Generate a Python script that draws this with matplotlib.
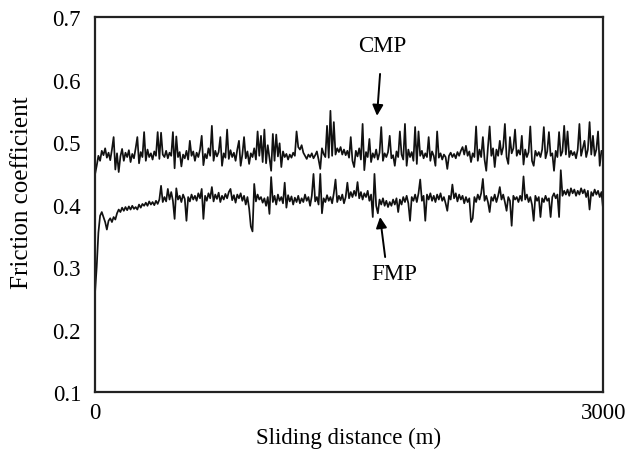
import numpy as np
import matplotlib
matplotlib.use('Agg')
import matplotlib.pyplot as plt

distance = np.arange(0, 3001, 10)

# friction coefficient, CMP (upper trace)
cmp_mu = [
    0.448, 0.462, 0.478, 0.470, 0.486, 0.479, 0.490, 0.475, 0.483, 0.471,
    0.488, 0.508, 0.456, 0.482, 0.452, 0.477, 0.489, 0.470, 0.483, 0.476,
    0.487, 0.468, 0.481, 0.474, 0.490, 0.508, 0.466, 0.484, 0.476, 0.516,
    0.470, 0.488, 0.476, 0.482, 0.472, 0.485, 0.478, 0.516, 0.473, 0.515,
    0.480, 0.476, 0.486, 0.474, 0.483, 0.478, 0.516, 0.458, 0.509, 0.476,
    0.484, 0.461, 0.480, 0.474, 0.486, 0.472, 0.502, 0.478, 0.485, 0.470,
    0.483, 0.476, 0.488, 0.510, 0.463, 0.481, 0.474, 0.490, 0.478, 0.526,
    0.470, 0.486, 0.477, 0.484, 0.508, 0.462, 0.482, 0.475, 0.520, 0.473,
    0.487, 0.476, 0.483, 0.470, 0.488, 0.502, 0.462, 0.480, 0.508, 0.474,
    0.485, 0.465, 0.482, 0.476, 0.490, 0.472, 0.517, 0.478, 0.510, 0.468,
    0.520, 0.466, 0.495, 0.474, 0.454, 0.513, 0.470, 0.512, 0.477, 0.498,
    0.460, 0.485, 0.476, 0.481, 0.472, 0.480, 0.475, 0.483, 0.478, 0.517,
    0.492, 0.488, 0.495, 0.483, 0.478, 0.473, 0.480, 0.476, 0.482, 0.474,
    0.479, 0.485, 0.472, 0.457, 0.490, 0.481, 0.476, 0.526, 0.475, 0.550,
    0.478, 0.532, 0.480, 0.490, 0.484, 0.492, 0.480, 0.488, 0.479, 0.486,
    0.475, 0.508, 0.470, 0.460, 0.486, 0.477, 0.490, 0.472, 0.529, 0.455,
    0.484, 0.476, 0.505, 0.468, 0.482, 0.475, 0.488, 0.472, 0.483, 0.524,
    0.470, 0.482, 0.476, 0.484, 0.510, 0.474, 0.479, 0.462, 0.485, 0.476,
    0.517, 0.480, 0.472, 0.529, 0.462, 0.488, 0.476, 0.484, 0.470, 0.524,
    0.465, 0.517, 0.478, 0.486, 0.474, 0.482, 0.476, 0.508, 0.470, 0.485,
    0.478, 0.462, 0.517, 0.475, 0.482, 0.472, 0.480, 0.476, 0.457, 0.478,
    0.483, 0.476, 0.481, 0.474, 0.484, 0.478, 0.486, 0.492, 0.480, 0.494,
    0.478, 0.485, 0.468, 0.482, 0.476, 0.525, 0.470, 0.488, 0.476, 0.508,
    0.472, 0.454, 0.492, 0.525, 0.478, 0.490, 0.460, 0.488, 0.478, 0.502,
    0.480, 0.492, 0.529, 0.476, 0.465, 0.508, 0.482, 0.490, 0.520, 0.478,
    0.487, 0.480, 0.510, 0.464, 0.488, 0.476, 0.484, 0.525, 0.470, 0.462,
    0.486, 0.478, 0.484, 0.476, 0.488, 0.524, 0.474, 0.485, 0.516, 0.478,
    0.482, 0.454, 0.486, 0.476, 0.516, 0.478, 0.485, 0.526, 0.480, 0.517,
    0.476, 0.486, 0.479, 0.484, 0.474, 0.488, 0.529, 0.478, 0.490, 0.502,
    0.476, 0.488, 0.532, 0.480, 0.510, 0.478, 0.488, 0.517, 0.462, 0.486,
    0.484,
]

# friction coefficient, FMP (lower trace)
fmp_mu = [
    0.258, 0.300, 0.355, 0.382, 0.388, 0.380, 0.372, 0.360, 0.374, 0.378,
    0.372, 0.380, 0.376, 0.386, 0.392, 0.388, 0.395, 0.390, 0.396, 0.391,
    0.397, 0.392, 0.398, 0.393, 0.396, 0.392, 0.400, 0.395, 0.401, 0.398,
    0.403, 0.398, 0.405, 0.400, 0.404, 0.399, 0.406, 0.401, 0.408, 0.430,
    0.404, 0.412, 0.405, 0.425, 0.408, 0.420, 0.406, 0.377, 0.426, 0.408,
    0.414, 0.404, 0.416, 0.409, 0.374, 0.412, 0.405, 0.416, 0.408, 0.414,
    0.406, 0.418, 0.410, 0.425, 0.377, 0.414, 0.406, 0.418, 0.410, 0.428,
    0.405, 0.416, 0.409, 0.419, 0.404, 0.414, 0.408, 0.417, 0.410, 0.420,
    0.425, 0.407, 0.415, 0.403, 0.416, 0.410, 0.418, 0.406, 0.414, 0.400,
    0.412, 0.394, 0.365, 0.357, 0.433, 0.405, 0.416, 0.408, 0.412, 0.403,
    0.410, 0.398, 0.412, 0.385, 0.444, 0.404, 0.414, 0.400, 0.416, 0.406,
    0.412, 0.402, 0.435, 0.395, 0.415, 0.405, 0.413, 0.400, 0.411, 0.404,
    0.414, 0.402, 0.410, 0.404, 0.416, 0.406, 0.412, 0.398, 0.414, 0.449,
    0.405, 0.412, 0.400, 0.449, 0.386, 0.410, 0.404, 0.415, 0.406, 0.412,
    0.402, 0.418, 0.440, 0.404, 0.414, 0.407, 0.416, 0.402, 0.412, 0.435,
    0.410, 0.420, 0.412, 0.422, 0.414, 0.436, 0.410, 0.420, 0.408, 0.418,
    0.412, 0.422, 0.406, 0.416, 0.380, 0.449, 0.398, 0.386, 0.408, 0.400,
    0.410, 0.398, 0.406, 0.396, 0.404, 0.398, 0.408, 0.400, 0.410, 0.388,
    0.408, 0.400, 0.412, 0.404, 0.414, 0.402, 0.374, 0.412, 0.406, 0.416,
    0.404, 0.418, 0.440, 0.406, 0.414, 0.374, 0.416, 0.408, 0.418, 0.406,
    0.414, 0.404, 0.416, 0.408, 0.418, 0.406, 0.412, 0.402, 0.390, 0.414,
    0.408, 0.432, 0.410, 0.418, 0.405, 0.416, 0.408, 0.414, 0.402, 0.412,
    0.404, 0.410, 0.372, 0.378, 0.412, 0.404, 0.416, 0.408, 0.418, 0.441,
    0.406, 0.414, 0.404, 0.388, 0.412, 0.406, 0.416, 0.404, 0.414, 0.428,
    0.408, 0.416, 0.404, 0.390, 0.412, 0.406, 0.366, 0.414, 0.408, 0.412,
    0.404, 0.414, 0.406, 0.445, 0.408, 0.416, 0.404, 0.412, 0.400, 0.374,
    0.414, 0.406, 0.412, 0.380, 0.410, 0.404, 0.414, 0.406, 0.410, 0.380,
    0.412, 0.418, 0.410, 0.416, 0.380, 0.455, 0.414, 0.422, 0.416, 0.424,
    0.414, 0.426, 0.418, 0.424, 0.414, 0.422, 0.416, 0.426, 0.418, 0.424,
    0.412, 0.422, 0.392, 0.420, 0.414, 0.424, 0.416, 0.422, 0.412, 0.420,
    0.392,
]

y_ticks = [0.1, 0.2, 0.3, 0.4, 0.5, 0.6, 0.7]
x_ticks = [0, 3000]

plt.rcParams['font.family'] = ['Liberation Serif', 'DejaVu Serif']
fs = 16.5

fig = plt.figure(figsize=(6.25, 4.52), dpi=100)
ax = fig.add_axes([0.152, 0.1305, 0.813, 0.8295])

ax.plot(distance, cmp_mu, color='#111111', lw=1.25)
ax.plot(distance, fmp_mu, color='#111111', lw=1.25)

ax.set_xlim(0, 3000)
ax.set_ylim(0.1, 0.7)
ax.set_xticks(x_ticks)
ax.set_yticks(y_ticks)
ax.set_yticklabels([f'{v:.1f}' for v in y_ticks])
ax.tick_params(axis='both', length=0, labelsize=fs)
ax.tick_params(axis='y', pad=10)
ax.tick_params(axis='x', pad=7)
for s in ax.spines.values():
    s.set_linewidth(1.6)
    s.set_color('#222222')

ax.set_xlabel('Sliding distance (m)', fontsize=fs, labelpad=3)
ax.set_ylabel('Friction coefficient', fontsize=18)
ax.yaxis.set_label_coords(-0.122, 0.535)

# labels + arrows
arrow = dict(arrowstyle='-|>', color='k', lw=1.4, mutation_scale=16, shrinkA=0, shrinkB=0)
ax.text(1695, 0.654, 'CMP', ha='center', va='center', fontsize=fs)
ax.annotate('', xy=(1665, 0.542), xytext=(1683, 0.609), arrowprops=arrow)
ax.text(1766, 0.290, 'FMP', ha='center', va='center', fontsize=fs)
ax.annotate('', xy=(1683, 0.380), xytext=(1713, 0.316), arrowprops=arrow)

plt.savefig('out.png', dpi=100)
